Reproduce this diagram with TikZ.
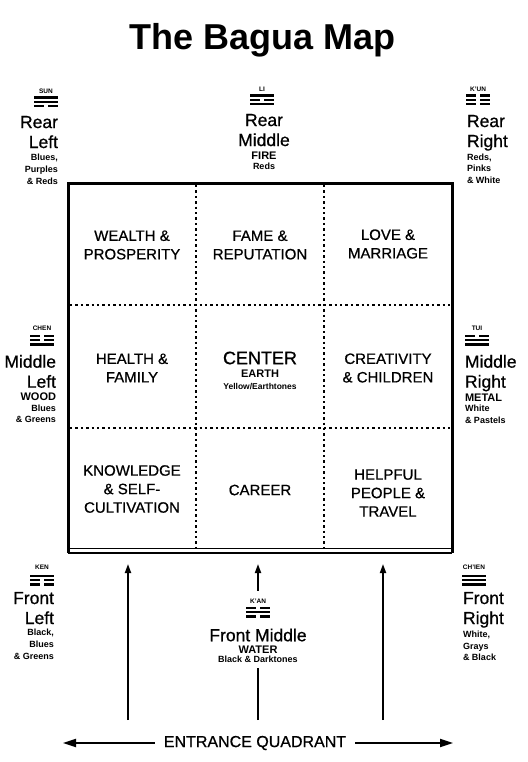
\documentclass[tikz,border=0pt]{standalone}
\usepackage{fontspec}
\setmainfont{Liberation Sans}
\newfontfamily\mediumfont[FakeBold=0.7]{Liberation Sans}
\usetikzlibrary{arrows.meta,positioning}

\begin{document}
\begin{tikzpicture}[
    x=1pt, y=1pt,
    every node/.style={inner sep=0pt, outer sep=0pt},
    cell/.style={align=center, font=\mediumfont\fontsize{15}{18.5}\selectfont},
    tag/.style={font=\bfseries\fontsize{6.5}{7}\selectfont},
    sidename/.style={font=\mediumfont\fontsize{17.5}{20}\selectfont},
    element/.style={font=\bfseries\fontsize{11}{13}\selectfont},
    tones/.style={font=\bfseries\fontsize{9}{11.8}\selectfont},
    frame/.style={line width=3pt},
    divider/.style={line width=2.4pt, dash pattern=on 2.4pt off 3pt},
    arrow/.style={-{Triangle[length=9pt,width=6pt]}, line width=1.8pt},
    longarrow/.style={-{Triangle[length=13pt,width=8pt]}, line width=1.8pt},
    pics/trigram/.style={code={
      \foreach \b [count=\i] in {#1}{
        \ifnum\b=1
          \fill (-12,{(2-\i)*4.2-1.3}) rectangle ++(24,2.6);
        \else
          \fill (-12,{(2-\i)*4.2-1.3}) rectangle ++(10,2.6);
          \fill (2,{(2-\i)*4.2-1.3}) rectangle ++(10,2.6);
        \fi
      }
    }},
  ]
    \useasboundingbox (0,0) rectangle (527,-762);

    \node[font=\bfseries\fontsize{36}{42}\selectfont] (title) at (263,-40) {The Bagua Map};

    % the nine areas
    \coordinate (nw) at (68,-183);
    \coordinate (ne) at (452,-183);
    \coordinate (sw) at (68,-553);
    \coordinate (se) at (452,-553);
    \foreach \x in {196,324} \draw[divider] (\x,-185) -- (\x,-549);
    \foreach \y in {305,428} \draw[divider] (70,-\y) -- (450,-\y);
    \draw[frame] (sw) -- (nw) -- (ne) -- (se);
    \draw[line width=1.4pt] (sw) -- (se);
    \draw[line width=0.7pt] ([yshift=5pt]sw) -- ([yshift=5pt]se);

    \node[cell] (wealth) at (132,-245) {WEALTH \&\\PROSPERITY};
    \node[cell] (fame) at (260,-245) {FAME \&\\REPUTATION};
    \node[cell] (love) at (388,-244) {LOVE \&\\MARRIAGE};
    \node[cell] (health) at (132,-368) {HEALTH \&\\FAMILY};
    \node[font=\mediumfont\fontsize{18}{20}\selectfont] (centre) at (260,-358) {CENTER};
    \node[element, below=6pt of centre] (earth) {EARTH};
    \node[tones, font=\bfseries\fontsize{8.5}{10}\selectfont, below=5pt of earth] (yellow) {Yellow/Earthtones};
    \node[cell] (creat) at (388,-368) {CREATIVITY\\\& CHILDREN};
    \node[cell] (knowl) at (132,-489) {KNOWLEDGE\\\& SELF-\\CULTIVATION};
    \node[cell] (career) at (260,-490) {CAREER};
    \node[cell] (helpful) at (388,-493) {HELPFUL\\PEOPLE \&\\TRAVEL};

    % rear row
    \node[tag] (sun) at (46,-91) {SUN};
    \pic at (46,-102) {trigram={1,1,0}};
    \node[sidename, align=right, anchor=north east] (rl) at (58,-116) {Rear\\Left};
    \node[tones, align=right, below left=6pt and 0pt of rl.south east] (rlc) {Blues,\\Purples\\\& Reds};

    \node[tag] (li) at (262,-89) {LI};
    \pic at (262,-100) {trigram={1,0,1}};
    \node[sidename, align=center, anchor=north] (rm) at (264,-114) {Rear\\Middle};
    \node[element, below=6pt of rm] (fire) {FIRE};
    \node[tones, below=3pt of fire] (rmc) {Reds};

    \node[tag] (kun) at (478,-89) {K'UN};
    \pic at (478,-100) {trigram={0,0,0}};
    \node[sidename, align=left, anchor=north west] (rr) at (467,-115) {Rear\\Right};
    \node[tones, align=left, below right=3pt and 0pt of rr.south west] (rrc) {Reds,\\Pinks\\\& White};

    % middle row
    \node[tag] (chen) at (42,-328) {CHEN};
    \pic at (42,-340) {trigram={0,0,1}};
    \node[sidename, align=right, anchor=north east] (ml) at (56,-355) {Middle\\Left};
    \node[element, below left=5pt and 0pt of ml.south east] (wood) {WOOD};
    \node[tones, align=right, below left=4pt and 0pt of wood.south east] (mlc) {Blues\\\& Greens};

    \node[tag] (tui) at (477,-328) {TUI};
    \pic at (477,-340) {trigram={0,1,1}};
    \node[sidename, align=left, anchor=north west] (mr) at (465,-355) {Middle\\Right};
    \node[element, below right=3pt and 0pt of mr.south west] (metal) {METAL};
    \node[tones, align=left, below right=3pt and 0pt of metal.south west] (mrc) {White\\\& Pastels};

    % front row
    \node[tag] (ken) at (42,-567) {KEN};
    \pic at (42,-580) {trigram={1,0,0}};
    \node[sidename, align=right, anchor=north east] (fl) at (54,-592) {Front\\Left};
    \node[tones, align=right, below left=5pt and 0pt of fl.south east] (flc) {Black,\\Blues\\\& Greens};

    \node[tag] (kan) at (258,-601) {K'AN};
    \pic at (258,-612) {trigram={0,1,0}};
    \node[sidename] (fm) at (258,-635) {Front Middle};
    \node[element, below=4pt of fm] (water) {WATER};
    \node[tones, below=2.5pt of water] (fmc) {Black \& Darktones};

    \node[tag] (chien) at (474,-567) {CH'IEN};
    \pic at (474,-580) {trigram={1,1,1}};
    \node[sidename, align=left, anchor=north west] (fr) at (463,-592) {Front\\Right};
    \node[tones, align=left, below right=3pt and 0pt of fr.south west] (frc) {White,\\Grays\\\& Black};

    % entrance
    \coordinate (in1) at (128,-720);
    \coordinate (up1) at (128,-564);
    \coordinate (in2) at (258,-720);
    \coordinate (up2) at (258,-564);
    \coordinate (in3) at (383,-720);
    \coordinate (up3) at (383,-564);
    \draw[arrow] (in1) -- (up1);
    \draw[arrow] (in3) -- (up3);
    \draw[line width=1.8pt, shorten >=6pt] (in2) -- (fmc.south -| in2);
    \draw[arrow, shorten <=8pt] (kan.north -| up2) -- (up2);

    \node[font=\mediumfont\fontsize{16}{18}\selectfont, inner xsep=9pt] (entr) at (255,-743) {ENTRANCE QUADRANT};
    \coordinate (qleft) at (63,-743);
    \coordinate (qright) at (453,-743);
    \draw[longarrow] (entr.west) -- (qleft);
    \draw[longarrow] (entr.east) -- (qright);
\end{tikzpicture}
\end{document}
